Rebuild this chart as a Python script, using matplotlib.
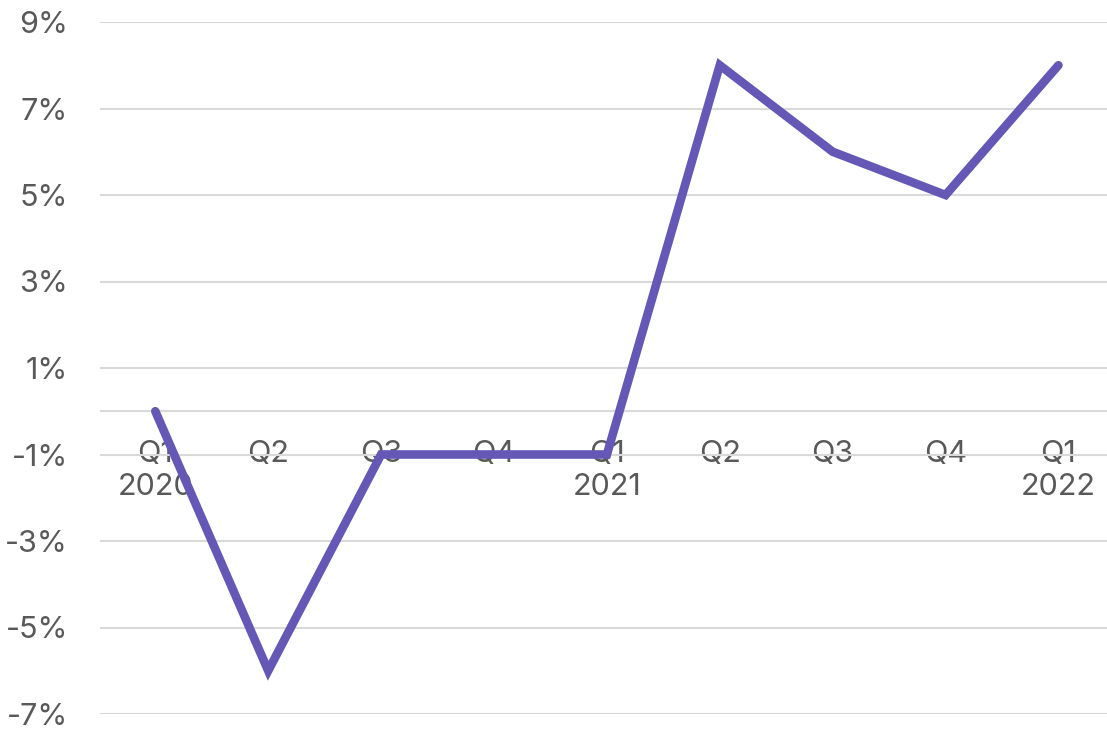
import matplotlib.pyplot as plt

plt.rcParams['font.family'] = ['Inter', 'DejaVu Sans']

quarters = ['Q1\n2020', 'Q2', 'Q3', 'Q4', 'Q1\n2021', 'Q2', 'Q3', 'Q4', 'Q1\n2022']
growth = [0, -6, -1, -1, -1, 8, 6, 5, 8]
ytick_vals = [-7, -5, -3, -1, 1, 3, 5, 7, 9]

fig = plt.figure(figsize=(11.07, 7.29), dpi=100)
ax = fig.add_axes([100 / 1107, 15 / 729, 1007 / 1107, 692 / 729])

x = list(range(len(growth)))
ax.plot(x, growth, color='#6457b5', lw=6.2, solid_capstyle='round',
        solid_joinstyle='miter', zorder=3)

ax.set_xlim(-0.49, 8.43)
ax.set_ylim(-7, 9)

ax.set_yticks(ytick_vals)
ax.set_yticklabels([f'{v}%' for v in ytick_vals])
ax.grid(axis='y', color='#d9d9d9', lw=1.5)
ax.axhline(0, color='#d9d9d9', lw=1.5, zorder=1)
ax.set_axisbelow(True)

ax.set_xticks(x)
ax.set_xticklabels(quarters)
ax.spines['bottom'].set_position(('data', 0))
for s in ax.spines.values():
    s.set_visible(False)

ax.tick_params(axis='x', length=0, pad=21, labelsize=22, labelcolor='#595959')
ax.tick_params(axis='y', length=0, pad=23, labelsize=22, labelcolor='#595959')

fig.savefig('out.png', dpi=100)
